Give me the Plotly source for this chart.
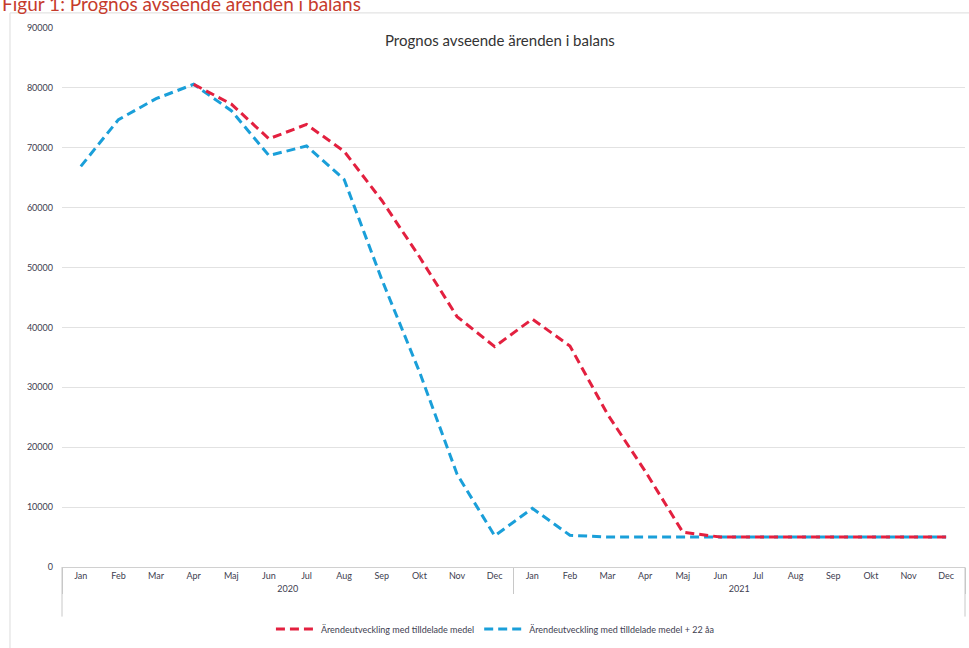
import plotly.graph_objects as go

months = ["Jan", "Feb", "Mar", "Apr", "Maj", "Jun", "Jul", "Aug", "Sep", "Okt", "Nov", "Dec"]
years = ["2020", "2021"]

red_label = "Ärendeutveckling med tilldelade medel"
blue_label = "Ärendeutveckling med tilldelade medel + 22 åa"

red_values = [None, None, None, 80600, 77300, 71500, 73900, 69400, 61200, 51800, 41800, 36800,
              41400, 36900, 25500, 16000, 5800, 5000, 5000, 5000, 5000, 5000, 5000, 5000]
blue_values = [66900, 74700, 78200, 80600, 76200, 68700, 70300, 64700, 48000, 32600, 15500, 5200,
               9800, 5300, 5000, 5000, 5000, 5000, 5000, 5000, 5000, 5000, 5000, 5000]

x_years = [y for y in years for _ in months]
x_months = months * len(years)

font_family = "Lato, 'Open Sans', sans-serif"

fig = go.Figure()
fig.add_trace(go.Scatter(
    x=[x_years, x_months], y=blue_values, name=blue_label, mode="lines",
    line=dict(color="#1a9fd9", width=3, dash="9px,5px"), legendrank=2,
))
fig.add_trace(go.Scatter(
    x=[x_years, x_months], y=red_values, name=red_label, mode="lines",
    line=dict(color="#e3203f", width=3, dash="9px,5px"), legendrank=1,
))

n = len(x_months)
fig.update_layout(
    width=969, height=648,
    margin=dict(l=62, r=4, t=28, b=78),
    paper_bgcolor="white", plot_bgcolor="white",
    font=dict(family=font_family, size=9, color="#404050"),
    showlegend=True,
    legend=dict(orientation="h", x=0.48, xanchor="center", y=-0.115, yanchor="middle",
                font=dict(size=9, color="#404050"), itemwidth=40),
    xaxis=dict(type="multicategory", range=[-0.5, n - 0.5], showgrid=False, showline=True,
               linecolor="#d0d0d0", showdividers=True, dividercolor="#c8c8c8", dividerwidth=1,
               tickfont=dict(size=9, color="#404050")),
    yaxis=dict(range=[0, 90000], dtick=10000, showgrid=True, gridcolor="#e2e2e2",
               gridwidth=1, zeroline=False, showline=False, tickformat="d",
               tickfont=dict(size=9, color="#404050"), ticks="", ticklabelstandoff=8),
    annotations=[
        dict(text="Prognos avseende ärenden i balans", xref="paper", yref="paper",
             x=0.485, y=0.978, xanchor="center", yanchor="middle", showarrow=False,
             font=dict(size=15, color="#333333", family=font_family)),
        dict(text="Figur 1: Prognos avseende ärenden i balans", xref="paper", yref="paper",
             x=-0.0687, y=1.046, xanchor="left", yanchor="middle", showarrow=False,
             font=dict(size=19, color="#c63b2c", family=font_family)),
    ],
    shapes=[
        dict(type="rect", xref="paper", yref="paper", x0=-0.0576, x1=1.1, y0=-0.2, y1=1.028,
             line=dict(color="#dcdcdc", width=1), fillcolor="rgba(0,0,0,0)", layer="below"),
        dict(type="line", xref="paper", yref="paper", x0=0, x1=0, y0=0, y1=-0.092,
             line=dict(color="#c8c8c8", width=1)),
        dict(type="line", xref="paper", yref="paper", x0=1, x1=1, y0=0, y1=-0.092,
             line=dict(color="#c8c8c8", width=1)),
    ],
)

fig.write_html("out.html")
